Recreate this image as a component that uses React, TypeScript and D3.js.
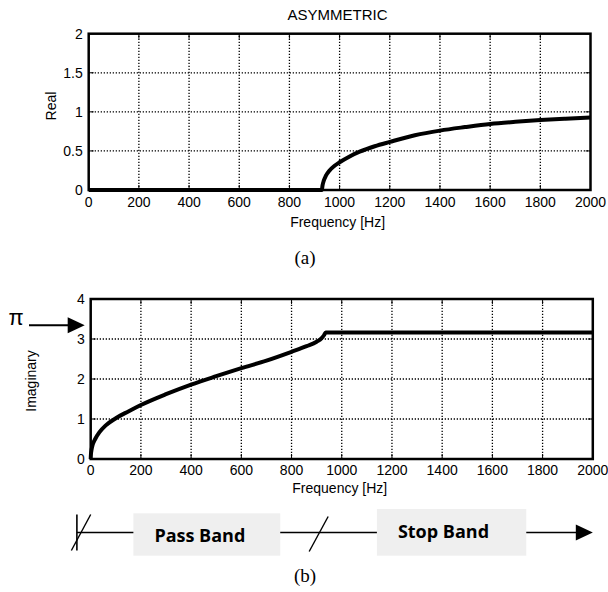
import React from 'react';
import * as d3 from 'd3';

// values
const freqTicks = [0, 200, 400, 600, 800, 1000, 1200, 1400, 1600, 1800, 2000];
const realTicks = [0, 0.5, 1, 1.5, 2];
const imagTicks = [0, 1, 2, 3, 4];

const realFreq = [0, 929, 932, 937, 945, 960, 980, 1000, 1040, 1080, 1140, 1200, 1300, 1400, 1500, 1600, 1700, 1800, 1900, 2000];
const realVals = [0, 0, 0.06, 0.12, 0.18, 0.25, 0.31, 0.355, 0.43, 0.49, 0.56, 0.615, 0.7, 0.76, 0.805, 0.845, 0.872, 0.895, 0.912, 0.927];

const imagFreq = [0, 1, 3, 8, 18, 35, 60, 100, 150, 200, 300, 400, 500, 600, 700, 800, 860, 900, 920, 930, 936, 2000];
const imagVals = [0, 0.12, 0.22, 0.36, 0.5, 0.67, 0.84, 1.02, 1.19, 1.35, 1.62, 1.86, 2.07, 2.27, 2.46, 2.68, 2.82, 2.93, 3.02, 3.1, 3.16, 3.16];

// frequency ranges of the band diagram under panel (b)
const bandNames = ['Pass Band', 'Stop Band'];
const bandStart = [170, 1140];
const bandEnd = [755, 1735];

const axisFont = 'Liberation Sans, Arial, sans-serif';

interface PanelProps {
    x: d3.ScaleLinear<number, number>;
    y: d3.ScaleLinear<number, number>;
    xVals: number[];
    yVals: number[];
    yTicks: number[];
    yLabel: string;
    yLabelX: number;
    yLabelY: number;
    tickGap: number;
    xLabelY: number;
    title?: string;
}

const Panel: React.FC<PanelProps> = ({ x, y, xVals, yVals, yTicks, yLabel, yLabelX, yLabelY, tickGap, xLabelY, title }) => {
    const [x0, x1] = x.range();
    const [y0, y1] = y.range();
    const pts: [number, number][] = xVals.map((f, i) => [f, yVals[i]]);
    const line = d3.line<[number, number]>()
        .x(d => x(d[0]))
        .y(d => y(d[1]))
        .curve(d3.curveMonotoneX);
    const cx = (x0 + x1) / 2;

    return (
        <g>
            {title && (
                <text x={cx - 2} y={20} textAnchor="middle" fontFamily={axisFont} fontSize={15}>{title}</text>
            )}
            {/* dotted grid */}
            {freqTicks.slice(1, -1).map(t => (
                <line key={'gx' + t} x1={x(t)} x2={x(t)} y1={y0} y2={y1}
                    stroke="#000" strokeWidth={1.3} strokeDasharray="1.3,1.7" />
            ))}
            {yTicks.slice(1, -1).map(t => (
                <line key={'gy' + t} x1={x0} x2={x1} y1={y(t)} y2={y(t)}
                    stroke="#000" strokeWidth={1.3} strokeDasharray="1.3,1.7" />
            ))}
            {/* inward ticks on all sides */}
            {freqTicks.map(t => (
                <g key={'tx' + t}>
                    <line x1={x(t)} x2={x(t)} y1={y0} y2={y0 - 5} stroke="#000" strokeWidth={1} />
                    <line x1={x(t)} x2={x(t)} y1={y1} y2={y1 + 5} stroke="#000" strokeWidth={1} />
                </g>
            ))}
            {yTicks.map(t => (
                <g key={'ty' + t}>
                    <line x1={x0} x2={x0 + 5} y1={y(t)} y2={y(t)} stroke="#000" strokeWidth={1} />
                    <line x1={x1} x2={x1 - 5} y1={y(t)} y2={y(t)} stroke="#000" strokeWidth={1} />
                </g>
            ))}
            <rect x={x0} y={y1} width={x1 - x0} height={y0 - y1} fill="none" stroke="#000" strokeWidth={2.5} />
            <path d={line(pts) || ''} fill="none" stroke="#000" strokeWidth={4} strokeLinejoin="round" />
            {/* tick labels */}
            {freqTicks.map(t => (
                <text key={'lx' + t} x={x(t)} y={y0 + tickGap} textAnchor="middle"
                    fontFamily={axisFont} fontSize={14}>{t}</text>
            ))}
            {yTicks.map(t => (
                <text key={'ly' + t} x={x0 - 6} y={y(t) + 5} textAnchor="end"
                    fontFamily={axisFont} fontSize={14}>{String(t)}</text>
            ))}
            <text x={cx - 2} y={xLabelY} textAnchor="middle" fontFamily={axisFont} fontSize={14}>Frequency [Hz]</text>
            <text transform={`translate(${yLabelX},${yLabelY}) rotate(-90)`} textAnchor="middle"
                fontFamily={axisFont} fontSize={14}>{yLabel}</text>
        </g>
    );
};

const App: React.FC = () => {
    const xA = d3.scaleLinear().domain([0, 2000]).range([88.7, 590.5]);
    const yA = d3.scaleLinear().domain([0, 2]).range([190, 33.7]);
    const xB = d3.scaleLinear().domain([0, 2000]).range([90.7, 592.8]);
    const yB = d3.scaleLinear().domain([0, 4]).range([459, 299]);

    const piY = yB(Math.PI) - 8;
    const bandY = 532.5;
    const cutoff = 930;

    return (
        <svg width={608} height={592} style={{ position: 'absolute', left: 0, top: 0, background: '#fff' }}>
            <rect width={608} height={592} fill="#fff" />
            <Panel x={xA} y={yA} xVals={realFreq} yVals={realVals} yTicks={realTicks}
                yLabel="Real" yLabelX={56} yLabelY={106} tickGap={17} xLabelY={227} title="ASYMMETRIC" />
            <text x={305} y={264} textAnchor="middle" fontFamily="Liberation Serif, serif" fontSize={19}>(a)</text>

            <Panel x={xB} y={yB} xVals={imagFreq} yVals={imagVals} yTicks={imagTicks}
                yLabel="Imaginary" yLabelX={36} yLabelY={381} tickGap={16} xLabelY={493} />

            {/* pi marker */}
            <text x={16} y={325} textAnchor="middle" fontFamily="Liberation Sans, sans-serif" fontSize={22}>π</text>
            <line x1={29} x2={70} y1={piY} y2={piY} stroke="#000" strokeWidth={2} />
            <path d={`M${xB(0) - 6},${piY} L${xB(0) - 23},${piY - 8} L${xB(0) - 23},${piY + 8} Z`} fill="#000" />

            {/* band diagram */}
            <line x1={xB(-55)} x2={xB(2000) - 14} y1={bandY} y2={bandY} stroke="#000" strokeWidth={1.4} />
            <line x1={xB(-55)} x2={xB(-55)} y1={bandY - 18} y2={bandY + 18} stroke="#000" strokeWidth={1.6} />
            <line x1={xB(-77)} x2={xB(0)} y1={bandY + 18} y2={bandY - 18} stroke="#000" strokeWidth={1.4} />
            <line x1={xB(cutoff) - 15} x2={xB(cutoff) + 4} y1={bandY + 19} y2={bandY - 16} stroke="#000" strokeWidth={1.4} />
            <path d={`M${xB(2000)},${bandY} L${xB(2000) - 17},${bandY - 8} L${xB(2000) - 17},${bandY + 8} Z`} fill="#000" />
            {bandNames.map((name, i) => {
                const top = i === 0 ? 513.3 : 509;
                const base = i === 0 ? 541.7 : 538.3;
                return (
                    <g key={name}>
                        <rect x={xB(bandStart[i])} y={top} width={xB(bandEnd[i]) - xB(bandStart[i])} height={555.7 - top} fill="#efefef" />
                        <text x={xB(bandStart[i]) + 21} y={base} fontFamily="Open Sans, sans-serif" fontWeight="bold" fontSize={18}>{name}</text>
                    </g>
                );
            })}
            <text x={305} y={582} textAnchor="middle" fontFamily="Liberation Serif, serif" fontSize={19}>(b)</text>
        </svg>
    );
};

export default App;
